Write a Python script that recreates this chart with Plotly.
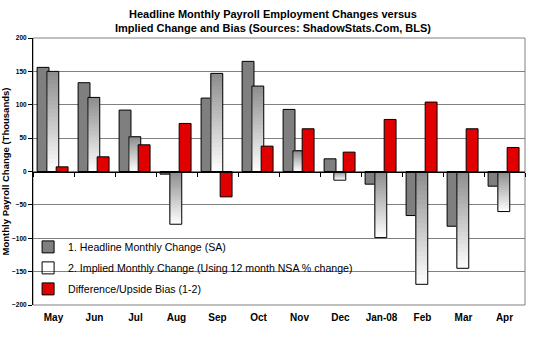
import plotly.graph_objects as go

months = ['May', 'Jun', 'Jul', 'Aug', 'Sep', 'Oct', 'Nov', 'Dec', 'Jan-08', 'Feb', 'Mar', 'Apr']
headline = [156, 133, 92, -4, 110, 165, 93, 19, -19, -66, -82, -22]
implied = [150, 111, 52, -79, 147, 128, 31, -13, -99, -169, -145, -60]
diff = [7, 22, 40, 72, -38, 38, 64, 29, 78, 104, 64, 36]

names = ['1. Headline Monthly Change (SA)',
         '2. Implied Monthly Change (Using 12 month NSA % change)',
         'Difference/Upside Bias (1-2)']
title_text = ('Headline Monthly Payroll Employment Changes versus<br>'
              'Implied Change and Bias (Sources: ShadowStats.Com, BLS)')

FONT = 'Liberation Sans'
W = 0.29
OFF_H, OFF_I, OFF_D = -0.40, -0.162, 0.065

fig = go.Figure()

fig.add_trace(go.Bar(x=months, y=headline, name=names[0], legendgroup='a',
                     marker=dict(color='#7f7f7f', line=dict(color='black', width=1)),
                     width=W, offset=OFF_H))

# gradient fill for implied bars (dark at top -> white at bottom), overlapping layers
N = 24
top_c, bot_c = 140, 255
for k in range(N):
    bases, hs, cols = [], [], []
    for v in implied:
        bases.append(v * k / N)
        hs.append(v * (1 - k / N))
        t = 1 - (k + 0.5) / N if v > 0 else (k + 0.5) / N
        c = int(round(top_c + (bot_c - top_c) * t))
        cols.append(f'rgb({c},{c},{c})')
    fig.add_trace(go.Bar(x=months, y=hs, base=bases, showlegend=False, legendgroup='b',
                         marker=dict(color=cols, line=dict(width=0)),
                         width=W, offset=OFF_I, hoverinfo='skip'))

fig.add_trace(go.Bar(x=months, y=implied, name=names[1], legendgroup='b',
                     marker=dict(color='rgba(255,255,255,0)', line=dict(color='black', width=1)),
                     width=W, offset=OFF_I))

fig.add_trace(go.Bar(x=months, y=diff, name=names[2], legendgroup='c',
                     marker=dict(color='#e00000', line=dict(color='black', width=1)),
                     width=W, offset=OFF_D))

fig.update_layout(
    width=553, height=338,
    margin=dict(l=33, r=28, t=38, b=33, autoexpand=False),
    paper_bgcolor='white', plot_bgcolor='white',
    barmode='overlay',
    font=dict(family=FONT, color='black'),
    xaxis=dict(type='category', categoryorder='array', categoryarray=months,
               range=[-0.5, 11.5], showgrid=False, zeroline=False,
               anchor='free', position=0.5,
               showline=True, linecolor='black', linewidth=1,
               ticks='outside', tickson='boundaries', ticklen=4, tickcolor='black',
               ticklabelstandoff=136, tickangle=0, automargin=False,
               tickfont=dict(family=FONT, size=10, weight='bold', color='black')),
    yaxis=dict(range=[-200, 200], tick0=0, dtick=50, showgrid=True, gridcolor='#808080',
               gridwidth=1, zeroline=False,
               showline=True, linecolor='black', linewidth=1,
               ticks='outside', ticklen=4, tickcolor='black', automargin=False,
               tickfont=dict(family=FONT, size=6.5, weight='bold', color='black'),
               title=dict(text='Monthly Payroll Change (Thousands)', standoff=4,
                          font=dict(family=FONT, size=9.5, weight='bold', color='black'))),
    legend=dict(x=-0.010, y=0.272, xanchor='left', yanchor='top',
                bgcolor='rgba(0,0,0,0)', borderwidth=0, traceorder='grouped',
                tracegroupgap=2, itemwidth=30,
                font=dict(family=FONT, size=10.6, color='black')),
    annotations=[dict(text=title_text, xref='paper', yref='paper', x=0.4878, y=1.062,
                      xanchor='center', yanchor='middle', showarrow=False,
                      font=dict(family=FONT, size=11, weight='bold', color='black'))],
    shapes=[dict(type='rect', xref='paper', yref='paper', x0=0.024, x1=0.675, y0=0.02, y1=0.29,
                 fillcolor='white', line=dict(width=0), layer='between'),
            dict(type='rect', xref='paper', yref='paper', x0=0, x1=1, y0=0, y1=1,
                 line=dict(color='#808080', width=1), layer='below')],
)

fig.write_html('out.html')
